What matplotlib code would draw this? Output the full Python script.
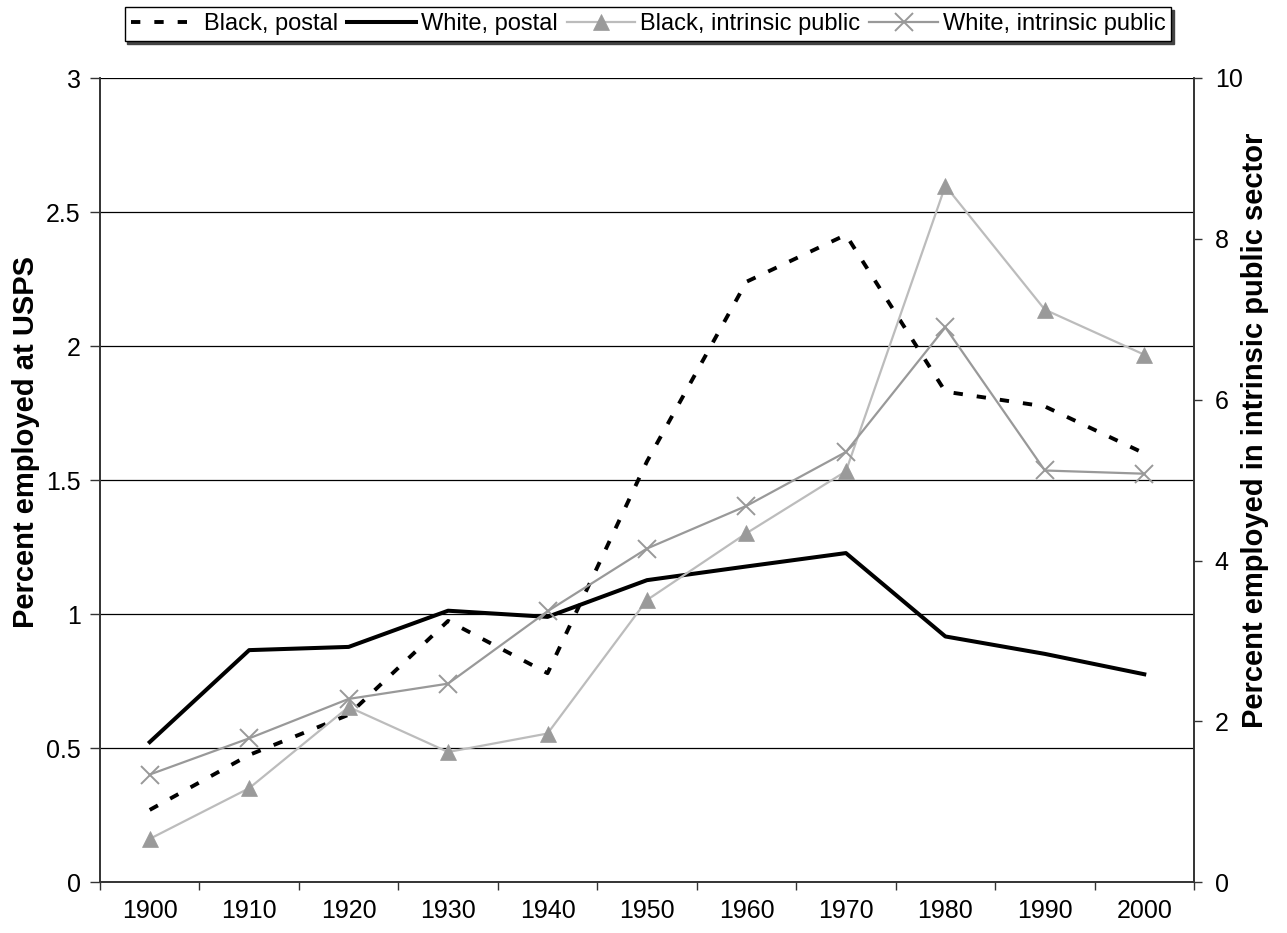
import matplotlib
matplotlib.use("Agg")
import matplotlib.pyplot as plt
import numpy as np

plt.rcParams['font.family'] = ['Liberation Sans', 'DejaVu Sans']

years = ['1900', '1910', '1920', '1930', '1940', '1950', '1960', '1970', '1980', '1990', '2000']
black_postal = [0.27, 0.475, 0.625, 0.975, 0.78, 1.57, 2.24, 2.415, 1.83, 1.775, 1.60]
white_postal = [0.523, 0.866, 0.878, 1.013, 0.99, 1.127, 1.178, 1.228, 0.917, 0.852, 0.776]
black_intrinsic = [0.54, 1.17, 2.18, 1.62, 1.85, 3.51, 4.34, 5.11, 8.66, 7.12, 6.56]
white_intrinsic = [1.34, 1.79, 2.28, 2.47, 3.37, 4.15, 4.68, 5.35, 6.90, 5.12, 5.08]

left_ticks = [0, 0.5, 1, 1.5, 2, 2.5, 3]
left_ticklabels = ['0', '0.5', '1', '1.5', '2', '2.5', '3']
right_ticks = [0, 2, 4, 6, 8, 10]

fig = plt.figure(figsize=(12.87, 9.33), dpi=100)
ax1 = fig.add_axes([100/1287, 1-882.3/933, (1194-100)/1287, (882.3-78)/933])
ax2 = ax1.twinx()

x = np.arange(len(years))

tick_font = dict(family=['Liberation Sans Narrow', 'Liberation Sans', 'DejaVu Sans'], size=18)
fs_leg = 17
fs_lab = 21

# right-axis series
l3, = ax2.plot(x, black_intrinsic, color='#bcbcbc', lw=1.6, marker='^', ms=11,
               markerfacecolor='#9a9a9a', markeredgecolor='#9a9a9a', markeredgewidth=0.5,
               label='Black, intrinsic public', zorder=2)
l4, = ax2.plot(x, white_intrinsic, color='#999999', lw=1.6, marker='x', ms=13,
               markeredgewidth=1.4, markeredgecolor='#999999',
               label='White, intrinsic public', zorder=3)

# left-axis series
l1, = ax1.plot(x, black_postal, color='black', lw=2.8, dashes=(2.4, 3.6),
               dash_capstyle='butt', label='Black, postal', zorder=3)
l2, = ax1.plot(x, white_postal, color='black', lw=2.9, label='White, postal', zorder=3)

ax1.set_xlim(-0.5, len(years) - 0.5)
ax1.set_ylim(0, 3)
ax2.set_ylim(0, 10)

ax1.set_yticks(left_ticks)
ax1.set_yticklabels(left_ticklabels, fontdict=tick_font)
ax2.set_yticks(right_ticks)
ax2.set_yticklabels([str(t) for t in right_ticks], fontdict=tick_font)

ax1.set_xticks(np.arange(-0.5, len(years), 1.0))
ax1.set_xticklabels([])
ax1.set_xticks(x, minor=True)
ax1.set_xticklabels(years, minor=True, fontdict=tick_font)
ax1.tick_params(axis='x', which='minor', length=0, pad=12)
ax1.tick_params(axis='x', which='major', length=5.5, direction='out', width=1, color='#333333')
ax1.tick_params(axis='y', length=7, direction='out', width=1, color='#333333', pad=7)
ax2.tick_params(axis='y', length=6, direction='out', width=1, color='#333333', pad=9)

ax1.yaxis.grid(True, color='black', lw=0.9)
ax1.set_axisbelow(True)

for ax in (ax1, ax2):
    ax.spines['top'].set_visible(False)
    for s in ('left', 'right', 'bottom'):
        ax.spines[s].set_color('#333333')
        ax.spines[s].set_linewidth(1.2)

ax1.set_ylabel('Percent employed at USPS', fontsize=fs_lab, fontweight='bold')
ax1.yaxis.set_label_coords(-0.055, 0.548)
ax2.set_ylabel('Percent employed in intrinsic public sector', fontsize=fs_lab,
               fontweight='bold', rotation=90)
ax2.yaxis.set_label_coords(1.043, 0.562)

leg = fig.legend(handles=[l1, l2, l3, l4], loc='upper center',
                 bbox_to_anchor=(648/1287, 1 - 7/933), ncol=4, fontsize=fs_leg,
                 frameon=True, fancybox=False, edgecolor='black', framealpha=1,
                 shadow={'ox': 2, 'oy': -2, 'color': '#444444', 'alpha': 1},
                 handlelength=2.9, handletextpad=0.2, columnspacing=0.4,
                 borderpad=0.25, borderaxespad=0)
leg.get_frame().set_linewidth(1.0)

fig.savefig('out.png', dpi=100)
